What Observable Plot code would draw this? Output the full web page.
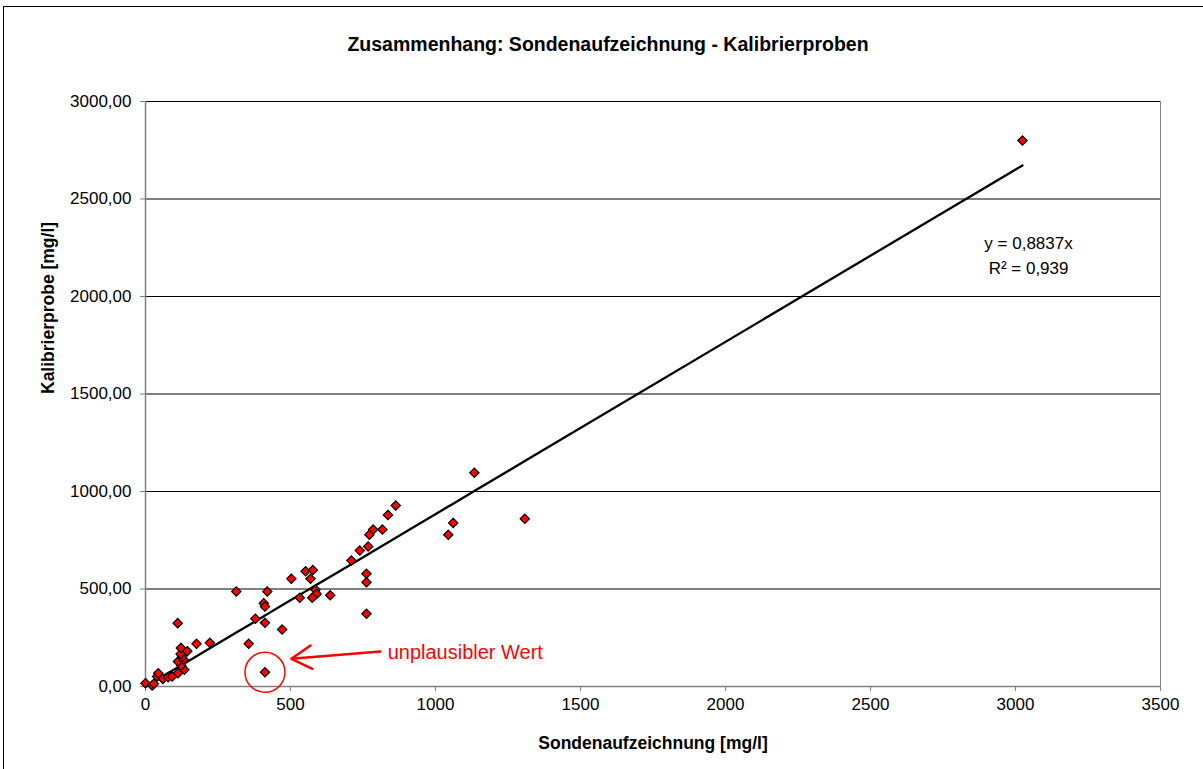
<!DOCTYPE html>
<html>
<head>
<meta charset="utf-8">
<script src="https://cdn.jsdelivr.net/npm/d3@7"></script>
<script src="https://cdn.jsdelivr.net/npm/@observablehq/plot@0.6"></script>
<style>
  html, body { margin: 0; padding: 0; background: #fff; overflow: hidden; }
  #frame { position: absolute; left: 3px; top: 6px; width: 1400px; height: 1000px; border: 1px solid #000; box-sizing: border-box; }
  #chart { position: absolute; left: 0; top: 0; }
  #chart svg { font-family: "Liberation Sans", Arial, sans-serif; }
</style>
</head>
<body>
<div id="frame"></div>
<div id="chart"></div>
<script>
// Probe readings (x) against lab calibration samples (y), both in mg/l
const sonde = [0, 23, 29, 40, 44, 60, 78, 92, 112, 134, 123, 112, 132, 126, 121, 144, 122, 111,
  176, 222, 313, 356, 379, 412, 408, 412, 420, 412, 471, 503, 532, 552, 577, 569, 586, 590,
  575, 637, 710, 739, 768, 772, 785, 817, 836, 863, 762, 762, 762, 1044, 1061, 1308, 1134, 3024];
const kalibrier = [17, 5, 14, 51, 68, 39, 48, 51, 68, 86, 108, 128, 137, 150, 167, 181, 198, 325,
  219, 224, 487, 219, 347, 327, 427, 410, 487, 73, 292, 552, 455, 591, 597, 552, 496, 475,
  455, 468, 646, 697, 718, 778, 805, 805, 880, 928, 578, 535, 373, 778, 839, 860, 1096, 2800];

// Linear fit through the origin
const slope = 0.8837;
const rSquared = 0.939;

// Implausible sample flagged in the chart
const outlierX = 412;
const outlierY = 73;

const xTicks = [0, 500, 1000, 1500, 2000, 2500, 3000, 3500];
const yTicks = [0, 500, 1000, 1500, 2000, 2500, 3000];

const titleText = "Zusammenhang: Sondenaufzeichnung - Kalibrierproben";
const xTitle = "Sondenaufzeichnung [mg/l]";
const yTitle = "Kalibrierprobe [mg/l]";
const noteText = "unplausibler Wert";
const eqLines = ["y = 0,8837x", "R² = 0,939"];

const points = sonde.map((x, i) => ({x, y: kalibrier[i]}));
const trend = [...sonde].sort((a, b) => a - b).map(x => ({x, y: slope * x}));

const fmtY = d => d.toFixed(2).replace(".", ",");
const fmtX = d => String(d);
const gray = "#808080";
const red = "#ff0000";

const chart = Plot.plot({
  width: 1203,
  height: 769,
  marginLeft: 145,
  marginRight: 43,
  marginTop: 101,
  marginBottom: 83,
  style: {fontFamily: "Liberation Sans, Arial, sans-serif", background: "transparent"},
  x: {domain: [0, 3500]},
  y: {domain: [0, 3000]},
  marks: [
    Plot.gridY(yTicks.filter(d => d > 0), {stroke: "#000", strokeOpacity: 1, strokeWidth: 1}),
    Plot.ruleY([0], {stroke: gray, strokeWidth: 1.5}),
    Plot.ruleX([0], {stroke: gray, strokeWidth: 1.5}),
    Plot.ruleX([3500], {stroke: gray, strokeWidth: 1}),
    Plot.axisY(yTicks, {tickSize: 5, tickPadding: 9, tickFormat: fmtY, fontSize: 17, stroke: gray, label: null}),
    Plot.axisX(xTicks, {tickSize: 5, tickPadding: 6, tickFormat: fmtX, fontSize: 17, stroke: gray, label: null}),
    Plot.line(trend, {x: "x", y: "y", stroke: "#000", strokeWidth: 2.3}),
    Plot.dot(points, {x: "x", y: "y", symbol: "diamond2", r: 4.2, fill: red, stroke: "#000", strokeWidth: 1.2}),
    // flag around the implausible sample
    Plot.dot([{x: outlierX, y: outlierY}], {x: "x", y: "y", r: 20, fill: "none", stroke: red, strokeWidth: 1.5}),
    Plot.arrow([{x1: 810, y1: 179, x2: 503, y2: 142}], {x1: "x1", y1: "y1", x2: "x2", y2: "y2", stroke: red, strokeWidth: 2.5, headLength: 14, bend: 0}),
    Plot.text([noteText], {x: 835, y: 174, text: d => d, textAnchor: "start", fill: red, fontSize: 20, lineAnchor: "middle"}),
    // regression equation
    Plot.text(eqLines, {x: 3045, y: (d, i) => [2272, 2144][i], text: d => d, fontSize: 17, lineAnchor: "middle"}),
    // titles
    Plot.text([titleText], {frameAnchor: "top", dx: -45, dy: -57, text: d => d, fontWeight: "bold", fontSize: 19.5, lineAnchor: "middle"}),
    Plot.text([xTitle], {frameAnchor: "bottom", dy: 57, text: d => d, fontWeight: "bold", fontSize: 17.5, lineAnchor: "middle"}),
    Plot.text([yTitle], {frameAnchor: "left", dx: -97, rotate: -90, text: d => d, fontWeight: "bold", fontSize: 17.5, lineAnchor: "middle"})
  ]
});
document.getElementById("chart").appendChild(chart);
</script>
</body>
</html>
